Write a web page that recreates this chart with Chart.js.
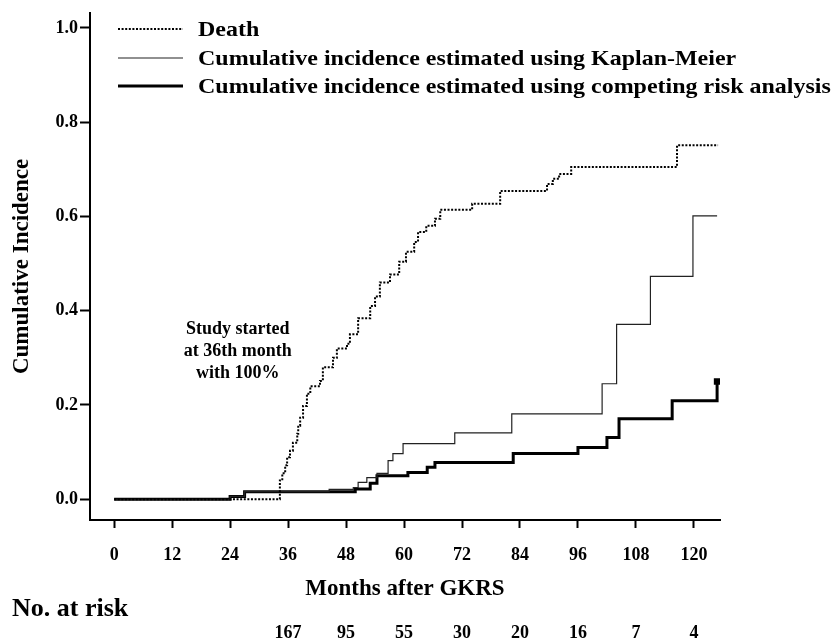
<!DOCTYPE html>
<html>
<head>
<meta charset="utf-8">
<script src="https://cdn.jsdelivr.net/npm/chart.js@4"></script>
<style>
  html, body { margin: 0; padding: 0; background: #fff; }
  canvas { display: block; }
</style>
</head>
<body>
<canvas id="chart" width="840" height="641"></canvas>
<script>
// step times (months after GKRS) and the value reached at each step
const deathMonths = [0, 34.3, 34.8, 35.4, 35.8, 36.4, 37.0, 37.9, 38.1, 38.5, 39.1, 39.9, 40.6, 42.6, 43.2, 45.3, 46.1, 48.2, 48.8, 50.5, 53.0, 54.0, 55.0, 57.1, 59.0, 60.4, 62.1, 62.9, 64.6, 66.4, 67.5, 74.1, 79.9, 89.6, 90.8, 92.1, 94.6, 116.5, 125];
const deathValues = [0, 0.04, 0.055, 0.072, 0.089, 0.103, 0.12, 0.139, 0.156, 0.173, 0.198, 0.224, 0.24, 0.251, 0.28, 0.30, 0.32, 0.33, 0.35, 0.384, 0.41, 0.43, 0.46, 0.477, 0.504, 0.525, 0.546, 0.567, 0.58, 0.595, 0.614, 0.627, 0.654, 0.669, 0.68, 0.69, 0.705, 0.751, 0.751];

const kmMonths = [0, 24, 27, 44.5, 49.5, 50.5, 52.3, 54.4, 56.7, 57.7, 59.8, 70.5, 82.3, 101, 104, 111, 119.8, 124.8];
const kmValues = [0, 0.006, 0.016, 0.021, 0.025, 0.036, 0.046, 0.055, 0.082, 0.097, 0.118, 0.141, 0.181, 0.245, 0.371, 0.473, 0.601, 0.601];

const crMonths = [0, 24, 27, 49.9, 53, 54.4, 60.8, 64.8, 66.4, 82.6, 96, 102, 104.5, 115.5, 124.8];
const crValues = [0, 0.006, 0.016, 0.022, 0.034, 0.05, 0.057, 0.068, 0.078, 0.097, 0.11, 0.131, 0.171, 0.209, 0.25];

const xTicks = [0, 12, 24, 36, 48, 60, 72, 84, 96, 108, 120];
const yTicks = [0, 0.2, 0.4, 0.6, 0.8, 1.0];

const atRiskMonths = [36, 48, 60, 72, 84, 96, 108, 120];
const atRiskCounts = [167, 95, 55, 30, 20, 16, 7, 4];

const note = ['Study started', 'at 36th month', 'with 100%'];

const serif = '"Liberation Serif", "Times New Roman", serif';
Chart.defaults.font.family = serif;
Chart.defaults.font.weight = 'bold';
Chart.defaults.color = '#000';

function points(xs, ys) {
  return xs.map((m, i) => ({ x: m, y: ys[i] }));
}

// legend, note and the "No. at risk" row
const extras = {
  id: 'extras',
  afterDraw(chart) {
    const { ctx } = chart;
    const x = chart.scales.x, y = chart.scales.y;
    ctx.save();
    ctx.fillStyle = '#000';
    ctx.strokeStyle = '#000';

    const rowY = [29, 58, 86];
    ctx.font = 'bold 22px ' + serif;
    ctx.textBaseline = 'middle';
    ctx.textAlign = 'left';
    chart.data.datasets.forEach((ds, i) => {
      ctx.beginPath();
      ctx.lineWidth = ds.borderWidth;
      ctx.setLineDash(ds.borderDash || []);
      ctx.strokeStyle = ds.borderColor;
      ctx.moveTo(118, rowY[i]);
      ctx.lineTo(183, rowY[i]);
      ctx.stroke();
      // the printed legend type is a little wider than Times
      ctx.save();
      ctx.translate(198, rowY[i] + 1);
      ctx.scale(1.09, 1);
      ctx.fillText(ds.label, 0, 0);
      ctx.restore();
    });
    ctx.setLineDash([]);

    ctx.font = 'bold 18px ' + serif;
    ctx.textAlign = 'center';
    const nx = x.getPixelForValue(25.6);
    note.forEach((t, i) => {
      ctx.fillText(t, nx, y.getPixelForValue(0.36) + i * 22);
    });

    ctx.textAlign = 'left';
    ctx.font = 'bold 26px ' + serif;
    ctx.fillText('No. at risk', 12, 609);

    ctx.textAlign = 'center';
    ctx.font = 'bold 18px ' + serif;
    atRiskMonths.forEach((m, i) => {
      ctx.fillText(String(atRiskCounts[i]), x.getPixelForValue(m), 633);
    });
    ctx.restore();
  }
};

new Chart(document.getElementById('chart'), {
  type: 'line',
  data: {
    datasets: [
      {
        label: 'Death',
        data: points(deathMonths, deathValues),
        borderColor: '#000',
        borderWidth: 2,
        borderDash: [2, 1.6],
        stepped: true,
        pointRadius: 0
      },
      {
        label: 'Cumulative incidence estimated using Kaplan-Meier',
        data: points(kmMonths, kmValues),
        borderColor: '#222',
        borderWidth: 1.2,
        stepped: true,
        pointRadius: 0
      },
      {
        label: 'Cumulative incidence estimated using competing risk analysis',
        data: points(crMonths, crValues),
        borderColor: '#000',
        borderWidth: 3,
        stepped: true,
        pointStyle: 'rect',
        backgroundColor: '#000',
        pointRadius: c => (c.dataIndex === crMonths.length - 1 ? 2.5 : 0)
      }
    ]
  },
  options: {
    responsive: false,
    devicePixelRatio: 1,
    animation: false,
    layout: { padding: { top: 10, right: 120, bottom: 0, left: 0 } },
    plugins: { legend: { display: false }, tooltip: { enabled: false } },
    scales: {
      x: {
        type: 'linear',
        min: -5,
        max: 125.4,
        afterBuildTicks: s => { s.ticks = xTicks.map(v => ({ value: v })); },
        afterFit: s => { s.height = 121; },
        ticks: { font: { size: 18, weight: 'bold' }, padding: 17, maxRotation: 0 },
        grid: { drawOnChartArea: false, drawTicks: true, tickLength: 8, tickColor: '#000', tickWidth: 2 },
        border: { display: true, color: '#000', width: 2 },
        title: {
          display: true,
          text: 'Months after GKRS',
          font: { size: 23, weight: 'bold' },
          padding: { top: 0, bottom: 38 }
        }
      },
      y: {
        min: -0.044,
        max: 1.032,
        afterBuildTicks: s => { s.ticks = yTicks.map(v => ({ value: v })); },
        afterFit: s => { s.width = 90; },
        ticks: { font: { size: 18, weight: 'bold' }, padding: 2, callback: v => v.toFixed(1) },
        grid: { drawOnChartArea: false, drawTicks: true, tickLength: 10, tickColor: '#000', tickWidth: 2 },
        border: { display: true, color: '#000', width: 2 },
        title: {
          display: true,
          text: 'Cumulative Incidence',
          font: { size: 23, weight: 'bold' },
          padding: { top: 8, bottom: 0 }
        }
      }
    }
  },
  plugins: [extras]
});
</script>
</body>
</html>
